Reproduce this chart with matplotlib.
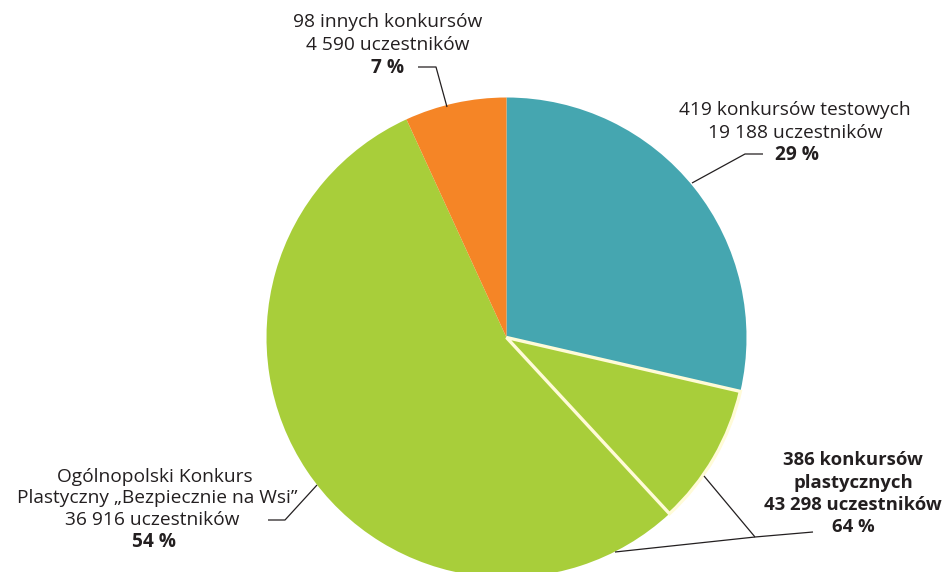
import matplotlib
matplotlib.use("Agg")
import matplotlib.pyplot as plt

# Data (participants)
categories = ["419 konkursów testowych", "386 konkursów plastycznych (pozostałe)",
              "Ogólnopolski Konkurs Plastyczny „Bezpiecznie na Wsi”", "98 innych konkursów"]
participants = [19188, 43298 - 36916, 36916, 4590]
colors = ["#45A6B0", "#A8CE3A", "#A8CE3A", "#F58526"]

W, H = 948, 572
fig = plt.figure(figsize=(W / 100, H / 100), dpi=100)
ax = fig.add_axes([0, 0, 1, 1])

cx, cy_px, r = 506.5, 337.5, 240
wedges, _ = ax.pie(participants, colors=colors, startangle=90, counterclock=False,
                   center=(cx, H - cy_px), radius=r,
                   wedgeprops=dict(linewidth=0))
wedges[1].set_edgecolor("#FFFBD8")
wedges[1].set_linewidth(2.4)
wedges[1].set_zorder(3)

ax.set_xlim(0, W)
ax.set_ylim(0, H)
ax.set_aspect("equal")
ax.axis("off")

TXT = "#231F20"
FONT = "Open Sans"
FS = 13.8


def line(x, y, s, bold=False, fs=FS):
    ax.text(x, H - y, s, ha="center", va="center", fontsize=fs, family=FONT,
            fontweight="bold" if bold else "normal", color=TXT, zorder=5)


def leader(pts):
    ax.plot([p[0] for p in pts], [H - p[1] for p in pts], color="#231F20",
            lw=0.9, solid_capstyle="butt", zorder=4)


# 98 innych
line(388, 22, "98 innych konkursów")
line(388, 45, "4 590 uczestników")
line(388, 68, "7 %", bold=True)
leader([(418, 67), (436, 67), (447, 107)])

# 419 testowych
line(795, 110, "419 konkursów testowych")
line(795, 133, "19 188 uczestników")
line(797, 155, "29 %", bold=True)
leader([(763, 154), (745, 154), (692, 183)])

# 386 plastycznych
line(853, 460, "386 konkursów", bold=True, fs=13.3)
line(853, 483, "plastycznych", bold=True, fs=13.3)
line(853, 505, "43 298 uczestników", bold=True, fs=13.3)
line(853, 527, "64 %", bold=True, fs=13.3)
leader([(813, 532), (755, 537), (704, 476)])
leader([(755, 537), (615, 552)])

# Ogólnopolski
line(155, 477, "Ogólnopolski Konkurs")
line(157, 498, "Plastyczny „Bezpiecznie na Wsi”")
line(152, 520, "36 916 uczestników")
line(154, 542, "54 %", bold=True)
leader([(268, 520), (285, 520), (317, 485)])

fig.savefig("out.png", dpi=100, facecolor="white")
